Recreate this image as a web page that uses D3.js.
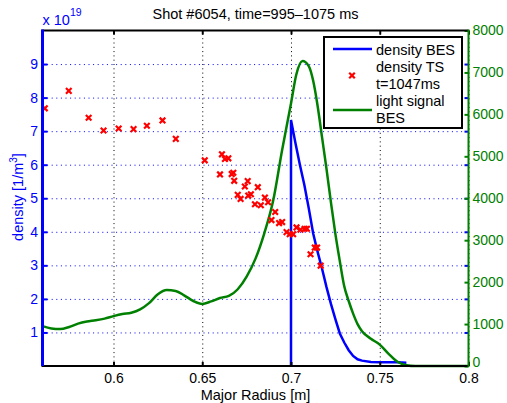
<!DOCTYPE html>
<html>
<head>
<meta charset="utf-8">
<script src="https://cdn.jsdelivr.net/npm/d3@7"></script>
<style>
  body { margin: 0; background: #fff; }
  text { font-family: "Liberation Sans", Arial, sans-serif; }
</style>
</head>
<body>
<div id="chart"></div>
<script>
// Thomson scattering density, t=1047ms (units of 1e19 m^-3)
const tsRadius = [0.5613, 0.5748, 0.586, 0.5944, 0.6029, 0.6113, 0.6188, 0.6276, 0.6351,
  0.6514, 0.6611, 0.6628, 0.6647, 0.660, 0.6666, 0.6675, 0.668, 0.6756, 0.674, 0.670,
  0.6716, 0.6759, 0.6774, 0.6813, 0.6797, 0.683, 0.6853, 0.6871, 0.6911, 0.689, 0.6933,
  0.695, 0.6975, 0.6993, 0.7012, 0.7031, 0.7053, 0.7077, 0.709, 0.7134, 0.7147, 0.711, 0.7167];
const tsDensity = [7.68, 8.20, 7.40, 7.02, 7.08, 7.06, 7.16, 7.32, 6.77,
  6.13, 6.31, 6.17, 6.19, 5.71, 5.72, 5.76, 5.52, 5.51, 5.35, 5.10,
  4.98, 5.08, 5.12, 5.33, 4.82, 4.79, 5.02, 4.88, 4.59, 4.35, 4.26,
  4.29, 3.99, 3.93, 3.93, 4.13, 4.06, 4.09, 4.09, 3.53, 3.53, 3.33, 2.99];

// BES density profile (units of 1e19 m^-3)
const besRadius = [0.700, 0.700, 0.7025, 0.705, 0.7075, 0.710, 0.7125, 0.715, 0.7175, 0.720,
  0.7225, 0.725, 0.7275, 0.730, 0.7325, 0.735, 0.7375, 0.740, 0.745, 0.750, 0.760, 0.765];
const besDensity = [0, 7.33, 6.65, 6.0, 5.4, 4.7, 3.95, 3.4, 2.9, 2.35,
  1.85, 1.4, 0.97, 0.7, 0.47, 0.3, 0.2, 0.16, 0.12, 0.11, 0.11, 0.1];

// BES light signal (right axis)
const lightRadius = [0.560, 0.565, 0.570, 0.575, 0.580, 0.585, 0.590, 0.595, 0.600, 0.605,
  0.610, 0.615, 0.620, 0.625, 0.630, 0.635, 0.640, 0.645, 0.650, 0.655, 0.660, 0.665,
  0.670, 0.675, 0.680, 0.685, 0.690, 0.695, 0.700, 0.703, 0.7065, 0.710, 0.7125, 0.715,
  0.7175, 0.720, 0.7225, 0.725, 0.7275, 0.730, 0.7325, 0.735, 0.7375, 0.740, 0.745,
  0.750, 0.755, 0.760, 0.765, 0.770, 0.800];
const lightSignal = [950, 895, 880, 930, 1010, 1060, 1090, 1130, 1190, 1240,
  1270, 1350, 1500, 1710, 1810, 1790, 1680, 1550, 1480, 1540, 1620, 1670,
  1830, 2130, 2560, 3170, 3950, 5150, 6260, 6950, 7270, 7150, 6800, 6200,
  5450, 4700, 3900, 3150, 2500, 1900, 1550, 1250, 1000, 830, 650,
  510, 290, 100, 20, 0, 0];

const xTicks = [0.6, 0.65, 0.7, 0.75, 0.8];
const yTicks = [1, 2, 3, 4, 5, 6, 7, 8, 9];
const lightTicks = [0, 1000, 2000, 3000, 4000, 5000, 6000, 7000, 8000];
const legendLabels = [["density BES"], ["density TS", "t=1047ms"], ["light signal", "BES"]];

const width = 507, height = 403;
const plotL = 42.5, plotR = 468.5, plotT = 30.5, plotB = 366;

const svg = d3.select("#chart")
  .append("svg")
  .attr("width", width)
  .attr("height", height);

svg.append("rect").attr("width", width).attr("height", height).attr("fill", "#fff");

const x = d3.scaleLinear().domain([0.56, 0.8]).range([plotL, plotR]);
const y = d3.scaleLinear().domain([0, 10]).range([plotB, plotT]);
const y2 = d3.scaleLinear().domain([0, 8000]).range([plotB, plotT]);

/* grid */
svg.append("g")
  .attr("transform", `translate(0,${plotB})`)
  .call(d3.axisBottom(x).tickValues(xTicks).tickSize(-(plotB - plotT)).tickFormat(""))
  .call(g => g.select(".domain").remove())
  .selectAll("line")
    .attr("stroke", "#000")
    .attr("stroke-width", 1)
    .attr("stroke-dasharray", "1,3.3");

svg.append("g")
  .attr("transform", `translate(${plotL},0)`)
  .call(d3.axisLeft(y).tickValues(yTicks).tickSize(-(plotR - plotL)).tickFormat(""))
  .call(g => g.select(".domain").remove())
  .selectAll("line")
    .attr("stroke", "#0000ff")
    .attr("stroke-width", 1)
    .attr("stroke-dasharray", "1,3.6");

/* data */
const besLine = d3.line()
  .x(i => x(besRadius[i]))
  .y(i => y(besDensity[i]));

svg.append("path")
  .attr("d", besLine(d3.range(besRadius.length)))
  .attr("fill", "none")
  .attr("stroke", "#0000ff")
  .attr("stroke-width", 2.5);

const lightLine = d3.line()
  .x(i => x(lightRadius[i]))
  .y(i => y2(lightSignal[i]))
  .curve(d3.curveMonotoneX);

svg.append("path")
  .attr("d", lightLine(d3.range(lightRadius.length)))
  .attr("fill", "none")
  .attr("stroke", "#008000")
  .attr("stroke-width", 2.5);

const cross = "M-2.8,-2.8L2.8,2.8M-2.8,2.8L2.8,-2.8";

svg.selectAll(".ts")
  .data(d3.range(tsRadius.length))
  .enter()
  .append("path")
    .attr("class", "ts")
    .attr("d", cross)
    .attr("transform", i => `translate(${x(tsRadius[i])},${y(tsDensity[i])})`)
    .attr("stroke", "#ff0000")
    .attr("stroke-width", 2.2)
    .attr("fill", "none");

/* axes */
const tickFont = g => g.selectAll("text").attr("font-size", "14px").attr("font-family", null);

svg.append("g")
  .attr("transform", `translate(0,${plotB})`)
  .call(d3.axisBottom(x).tickValues(xTicks).tickSizeInner(-4).tickSizeOuter(0).tickPadding(7.5).tickFormat(d => d))
  .call(g => g.select(".domain").remove())
  .call(tickFont)
  .call(g => g.selectAll("line").attr("stroke", "#000").attr("stroke-width", 2))
  .call(g => g.selectAll("text").attr("fill", "#000"));

svg.append("g")
  .attr("transform", `translate(0,${plotT})`)
  .call(d3.axisTop(x).tickValues(xTicks).tickSizeInner(-4).tickSizeOuter(0).tickFormat(""))
  .call(g => g.select(".domain").remove())
  .call(g => g.selectAll("line").attr("stroke", "#000").attr("stroke-width", 2));

svg.append("g")
  .attr("transform", `translate(${plotL},0)`)
  .call(d3.axisLeft(y).tickValues(yTicks).tickSizeInner(-5).tickSizeOuter(0).tickPadding(4.5))
  .call(g => g.select(".domain").remove())
  .call(tickFont)
  .call(g => g.selectAll("line").attr("stroke", "#0000ff").attr("stroke-width", 2))
  .call(g => g.selectAll("text").attr("fill", "#0000ff"));

svg.append("g")
  .attr("transform", `translate(${plotR},0)`)
  .call(d3.axisRight(y).tickValues(yTicks).tickSizeInner(-4).tickSizeOuter(0).tickFormat(""))
  .call(g => g.select(".domain").remove())
  .call(g => g.selectAll("line").attr("stroke", "#0000ff").attr("stroke-width", 2));

svg.append("g")
  .attr("transform", `translate(${plotR},0)`)
  .call(d3.axisRight(y2).tickValues(lightTicks).tickSizeInner(-4).tickSizeOuter(0).tickPadding(4)
    .tickFormat(d3.format("d")))
  .call(g => g.select(".domain").remove())
  .call(tickFont)
  .call(g => g.selectAll("line").attr("stroke", "#008000").attr("stroke-width", 2))
  .call(g => g.selectAll("text").attr("fill", "#008000"))
  // lift the bottom "0" a touch so it clears the "0.8" label
  .call(g => g.selectAll(".tick").filter(d => d === 0).select("text").attr("y", -3.5));

// axis lines
svg.append("line").attr("x1", plotL - 1).attr("x2", plotR).attr("y1", plotB).attr("y2", plotB)
  .attr("stroke", "#000").attr("stroke-width", 2);
svg.append("line").attr("x1", plotL - 1).attr("x2", plotR).attr("y1", plotT).attr("y2", plotT)
  .attr("stroke", "#000").attr("stroke-width", 2);
svg.append("line").attr("x1", plotL).attr("x2", plotL).attr("y1", plotT - 1).attr("y2", plotB)
  .attr("stroke", "#0000ff").attr("stroke-width", 3);
svg.append("line").attr("x1", plotR).attr("x2", plotR).attr("y1", plotT - 1).attr("y2", plotB + 1)
  .attr("stroke", "#008000").attr("stroke-width", 2);

/* labels */
svg.append("text")
  .attr("x", 255.5).attr("y", 19)
  .attr("text-anchor", "middle")
  .attr("font-size", "14.5px")
  .text("Shot #6054, time=995\u20131075 ms");

svg.append("text")
  .attr("x", 255.5).attr("y", 400)
  .attr("text-anchor", "middle")
  .attr("font-size", "14.5px")
  .text("Major Radius [m]");

const ylab = svg.append("text")
  .attr("transform", "translate(22.5,197) rotate(-90)")
  .attr("text-anchor", "middle")
  .attr("font-size", "14.5px")
  .attr("fill", "#0000ff");
ylab.append("tspan").text("density [1/m");
ylab.append("tspan").attr("dy", -6).attr("font-size", "10px").text("3");
ylab.append("tspan").attr("dy", 6).text("]");

const expo = svg.append("text")
  .attr("x", 42.5).attr("y", 25)
  .attr("font-size", "14.5px")
  .attr("fill", "#0000ff");
expo.append("tspan").text("x 10");
expo.append("tspan").attr("dy", -9).attr("font-size", "10.5px").text("19");

/* legend */
const legend = svg.append("g");
legend.append("rect")
  .attr("x", 324).attr("y", 37).attr("width", 138).attr("height", 91)
  .attr("fill", "#fff").attr("stroke", "#000").attr("stroke-width", 2);

legend.append("line").attr("x1", 333).attr("x2", 372).attr("y1", 49).attr("y2", 49)
  .attr("stroke", "#0000ff").attr("stroke-width", 2.5);
legend.append("path").attr("d", cross).attr("transform", "translate(352,75.5)")
  .attr("stroke", "#ff0000").attr("stroke-width", 2.2);
legend.append("line").attr("x1", 333).attr("x2", 372).attr("y1", 110).attr("y2", 110)
  .attr("stroke", "#008000").attr("stroke-width", 2.5);

const baselines = [[55], [72.3, 89.3], [106, 123.3]];
legendLabels.forEach((lines, i) => {
  lines.forEach((t, j) => {
    legend.append("text")
      .attr("x", 376).attr("y", baselines[i][j])
      .attr("font-size", "14.5px")
      .text(t);
  });
});
</script>
</body>
</html>
